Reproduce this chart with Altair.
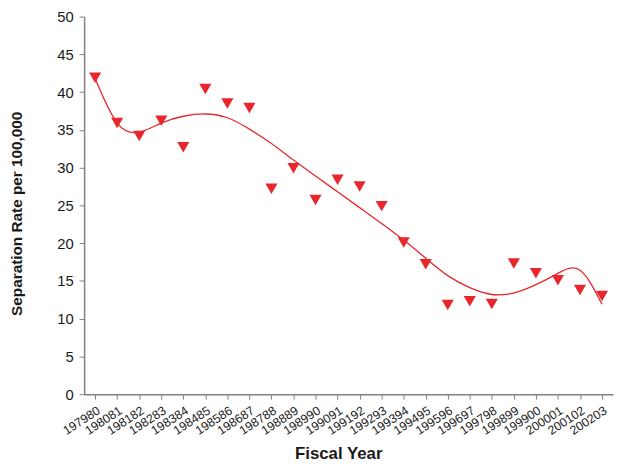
import altair as alt
import pandas as pd

years = ["197980", "198081", "198182", "198283", "198384", "198485", "198586", "198687",
         "198788", "198889", "198990", "199091", "199192", "199293", "199394", "199495",
         "199596", "199697", "199798", "199899", "199900", "200001", "200102", "200203"]
rates = [41.9, 35.9, 34.2, 36.2, 32.7, 40.4, 38.5, 37.9,
         27.2, 29.9, 25.7, 28.4, 27.5, 24.9, 20.1, 17.2,
         11.8, 12.3, 11.95, 17.3, 16.0, 15.1, 13.8, 13.0]
# trend line values at each fiscal year
trend = [41.8, 35.9, 34.7, 35.9, 36.8, 37.1, 36.6, 35.1,
         33.2, 31.0, 28.9, 26.8, 24.7, 22.6, 20.4, 18.0,
         15.7, 14.1, 13.2, 13.4, 14.5, 16.0, 16.4, 11.9]

df = pd.DataFrame({"idx": list(range(len(years))), "year": years,
                   "rate": rates, "trend": trend})

red = "#E8262B"
label_expr = "[" + ",".join(f"'{y}'" for y in years) + "][datum.value]"

x = alt.X("idx:Q",
          scale=alt.Scale(domain=[-0.5, len(years) - 0.5], nice=False, zero=False),
          axis=alt.Axis(values=list(range(len(years))), labelExpr=label_expr,
                        labelAngle=-33, labelOverlap=False, title="Fiscal Year", grid=False,
                        titleFontSize=17, titleFontWeight="bold", titlePadding=9,
                        titleX=257, labelFontSize=12.5, labelPadding=5))
y_axis = alt.Axis(values=list(range(0, 51, 5)), title="Separation Rate per 100,000",
                  grid=False, titleFontSize=15.5, titleFontWeight="bold",
                  labelFontSize=15, titlePadding=33, titleY=199, labelPadding=6)
y_scale = alt.Scale(domain=[0, 50], nice=False)

points = alt.Chart(df).mark_point(shape="triangle-down", filled=True, size=150,
                                  color=red, opacity=1).encode(
    x=x, y=alt.Y("rate:Q", scale=y_scale, axis=y_axis))

curve = alt.Chart(df).mark_line(color=red, strokeWidth=1.3, interpolate="natural").encode(
    x=x, y=alt.Y("trend:Q", scale=y_scale, axis=y_axis))

chart = (curve + points).properties(
    width=535, height=382,
    autosize=alt.AutoSizeParams(type="none"),
    padding={"left": 77, "top": 6, "right": 2, "bottom": 72}
).configure_view(stroke=None).configure_axis(
    domainColor="#808080", tickColor="#808080", domainWidth=1.5,
    tickSize=5, labelColor="#1a1a1a", titleColor="#1a1a1a",
    labelFont="Liberation Sans", titleFont="Liberation Sans"
)

chart.save("out.html", embed_options={"renderer": "svg", "actions": False})
